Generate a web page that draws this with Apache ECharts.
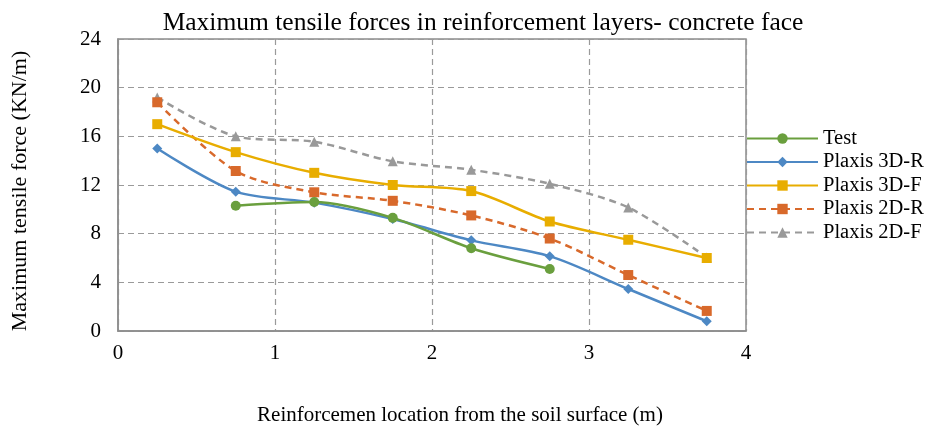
<!DOCTYPE html>
<html><head><meta charset="utf-8">
<script src="https://cdn.jsdelivr.net/npm/echarts@6/dist/echarts.min.js"></script>
<style>html,body{margin:0;padding:0;background:#fff}#c{width:930px;height:431px}</style>
</head><body><div id="c"></div>
<script>
const xPos = [0.25, 0.75, 1.25, 1.75, 2.25, 2.75, 3.25, 3.75];
const test = [null, 10.3, 10.6, 9.3, 6.8, 5.1, null, null];
const p3dR = [15.0, 11.45, 10.55, 9.2, 7.45, 6.15, 3.45, 0.8];
const p3dF = [17.0, 14.7, 13.0, 12.0, 11.5, 9.0, 7.5, 6.0];
const p2dR = [18.8, 13.15, 11.4, 10.7, 9.5, 7.6, 4.6, 1.65];
const p2dF = [19.2, 16.0, 15.55, 13.95, 13.25, 12.1, 10.15, 6.05];
const seriesNames = ['Test', 'Plaxis 3D-R', 'Plaxis 3D-F', 'Plaxis 2D-R', 'Plaxis 2D-F'];
const yTicks = [0, 4, 8, 12, 16, 20, 24];

const pairs = arr => xPos.map((x, i) => [x, arr[i]]).filter(p => p[1] !== null);
const font = '"Liberation Serif", "Times New Roman", serif';
const styles = [
  {color: '#6a9f3e', symbol: 'circle', size: 10, type: 'solid'},
  {color: '#4d88c4', symbol: 'diamond', size: 10, type: 'solid'},
  {color: '#e8ad00', symbol: 'rect', size: 10, type: 'solid'},
  {color: '#d8692b', symbol: 'rect', size: 10, type: [7, 5]},
  {color: '#999999', symbol: 'triangle', size: 10, type: [7, 5]}
];
const dataSets = [test, p3dR, p3dF, p2dR, p2dF];

const chart = echarts.init(document.getElementById('c'), null, {renderer: 'canvas'});
chart.setOption({
  animation: false,
  title: {
    text: 'Maximum tensile forces in reinforcement layers- concrete face',
    left: 478, top: 5, textAlign: 'center',
    textStyle: {fontFamily: font, fontSize: 25.5, fontWeight: 'normal', color: '#000'}
  },
  legend: {
    orient: 'vertical', left: 746, top: 128, itemGap: 2.5, padding: 0,
    itemWidth: 71, itemHeight: 13,
    textStyle: {fontFamily: font, fontSize: 20.5, color: '#000'},
    data: seriesNames
  },
  grid: {left: 118, right: 184, top: 39, bottom: 98, show: true, borderColor: '#8c8c8c', borderWidth: 1.5},
  xAxis: {
    type: 'value', min: 0, max: 4, interval: 1,
    name: 'Reinforcemen location from the soil surface (m)',
    nameLocation: 'middle', nameGap: 74,
    nameTextStyle: {fontFamily: font, fontSize: 21, color: '#000', padding: [0,0,0,56]},
    axisLine: {show: true, lineStyle: {color: '#8c8c8c', width: 1.5}},
    axisTick: {show: false},
    axisLabel: {fontFamily: font, fontSize: 21, color: '#000', margin: 12},
    splitLine: {show: true, lineStyle: {color: '#9a9a9a', type: [6, 4], width: 1.2}}
  },
  yAxis: {
    type: 'value', min: 0, max: 24, interval: 4,
    name: 'Maximum tensile force (KN/m)',
    nameLocation: 'middle', nameGap: 87,
    nameTextStyle: {fontFamily: font, fontSize: 22, color: '#000', padding: [0,12,0,0]},
    axisLine: {show: true, lineStyle: {color: '#8c8c8c', width: 1.5}},
    axisTick: {show: false},
    axisLabel: {fontFamily: font, fontSize: 21, color: '#000', margin: 17,
      formatter: v => yTicks.includes(v) ? String(v) : ''},
    splitLine: {show: true, lineStyle: {color: '#9a9a9a', type: [6, 4], width: 1.2}}
  },
  series: dataSets.map((d, i) => ({
    name: seriesNames[i], type: 'line', smooth: 0.3,
    data: pairs(d),
    symbol: styles[i].symbol, symbolSize: styles[i].size,
    showSymbol: true,
    lineStyle: {color: styles[i].color, width: 2.5, type: styles[i].type},
    itemStyle: {color: styles[i].color},
    z: 10 - i
  }))
});
</script></body></html>
